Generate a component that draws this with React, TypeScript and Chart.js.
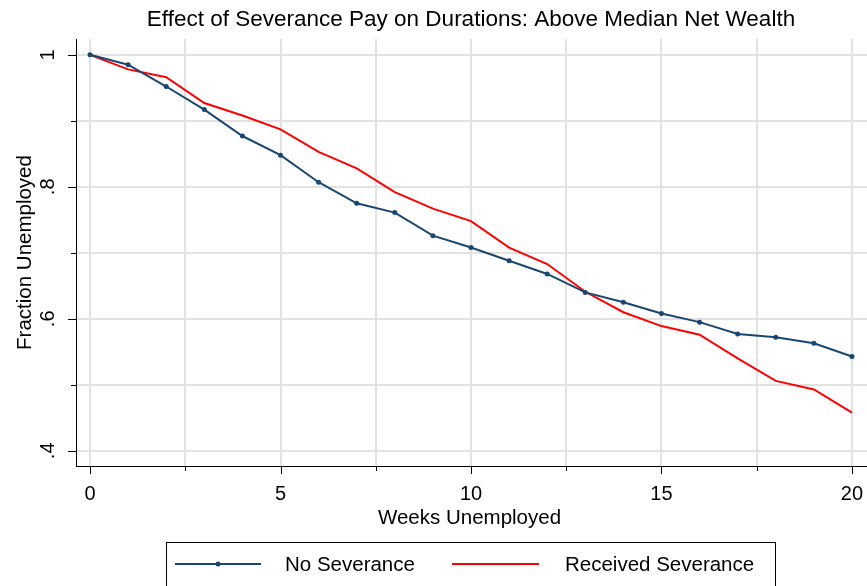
import React, { useEffect, useRef } from "react";
import { Chart, registerables } from "chart.js";

Chart.register(...registerables);

const titleText = "Effect of Severance Pay on Durations: Above Median Net Wealth";
const xTitle = "Weeks Unemployed";
const yTitle = "Fraction Unemployed";

const weeks = [0, 1, 2, 3, 4, 5, 6, 7, 8, 9, 10, 11, 12, 13, 14, 15, 16, 17, 18, 19, 20];
const noSeverance = [
  1.0, 0.985, 0.952, 0.917, 0.877, 0.848, 0.807, 0.775, 0.761, 0.726, 0.708,
  0.688, 0.668, 0.64, 0.625, 0.608, 0.595, 0.577, 0.572, 0.563, 0.543,
];
const receivedSeverance = [
  1.0, 0.978, 0.966, 0.927, 0.908, 0.887, 0.853, 0.828, 0.792, 0.767, 0.748,
  0.708, 0.683, 0.641, 0.61, 0.589, 0.576, 0.54, 0.506, 0.493, 0.458,
];

const xMajorTicks = [0, 5, 10, 15, 20];
const xMinorTicks = [2.5, 7.5, 12.5, 17.5];
const yMajorTicks = [0.4, 0.6, 0.8, 1.0];
const yMajorLabels = [".4", ".6", ".8", "1"];
const yMinorTicks = [0.5, 0.7, 0.9];

const seriesNames = ["No Severance", "Received Severance"];

const FONT = "'Liberation Sans', Arial, Helvetica, sans-serif";
const BLUE = "#1a476f";
const RED = "#ff0000";
const GRID = "#e2e2e2";

const overlayPlugin = {
  id: "stataOverlay",
  beforeDatasetsDraw(chart: any) {
    const ctx = chart.ctx;
    const ys = chart.scales.y;
    const area = chart.chartArea;
    ctx.save();
    ctx.strokeStyle = GRID;
    ctx.lineWidth = 2;
    [...yMajorTicks, ...yMinorTicks].forEach((v) => {
      const py = Math.round(ys.getPixelForValue(v));
      ctx.beginPath();
      ctx.moveTo(area.right, py);
      ctx.lineTo(chart.width, py);
      ctx.stroke();
    });
    ctx.restore();
  },
  afterDraw(chart: any) {
    const ctx = chart.ctx;
    const xs = chart.scales.x;
    const ys = chart.scales.y;
    const area = chart.chartArea;
    ctx.save();
    ctx.strokeStyle = "#000";
    ctx.lineWidth = 1;
    ctx.beginPath();
    ctx.moveTo(area.right, area.bottom + 0.5);
    ctx.lineTo(chart.width, area.bottom + 0.5);
    ctx.stroke();
    const drawXTick = (v: number, len: number) => {
      const px = Math.round(xs.getPixelForValue(v)) + 0.5;
      ctx.beginPath();
      ctx.moveTo(px, area.bottom);
      ctx.lineTo(px, area.bottom + len);
      ctx.stroke();
    };
    xMajorTicks.forEach((v) => drawXTick(v, 8));
    xMinorTicks.forEach((v) => drawXTick(v, 5));
    const drawYTick = (v: number, len: number) => {
      const py = Math.round(ys.getPixelForValue(v)) + 0.5;
      ctx.beginPath();
      ctx.moveTo(area.left, py);
      ctx.lineTo(area.left - len, py);
      ctx.stroke();
    };
    yMajorTicks.forEach((v) => drawYTick(v, 8));
    yMinorTicks.forEach((v) => drawYTick(v, 5));

    // y tick labels (rotated)
    ctx.fillStyle = "#000";
    ctx.font = `20px ${FONT}`;
    ctx.textAlign = "center";
    ctx.textBaseline = "middle";
    yMajorTicks.forEach((v, i) => {
      const py = ys.getPixelForValue(v);
      ctx.save();
      ctx.translate(area.left - 28, py);
      ctx.rotate(-Math.PI / 2);
      ctx.fillText(yMajorLabels[i], 0, 0);
      ctx.restore();
    });

    // title
    ctx.font = `22.5px ${FONT}`;
    ctx.textAlign = "center";
    ctx.textBaseline = "middle";
    ctx.fillText(titleText, 471, 20);

    // legend
    const lx = 166.5, ly = 542.5, lw = 609, lh = 60;
    ctx.strokeStyle = "#000";
    ctx.lineWidth = 1;
    ctx.strokeRect(lx, ly, lw, lh);
    const cy = 564;
    ctx.lineWidth = 2;
    ctx.strokeStyle = BLUE;
    ctx.beginPath();
    ctx.moveTo(175, cy);
    ctx.lineTo(261, cy);
    ctx.stroke();
    ctx.fillStyle = BLUE;
    ctx.beginPath();
    ctx.arc(218, cy, 2.5, 0, Math.PI * 2);
    ctx.fill();
    ctx.strokeStyle = RED;
    ctx.beginPath();
    ctx.moveTo(452, cy);
    ctx.lineTo(539, cy);
    ctx.stroke();
    ctx.fillStyle = "#000";
    ctx.font = `20.5px ${FONT}`;
    ctx.textAlign = "left";
    ctx.textBaseline = "middle";
    ctx.fillText(seriesNames[0], 285, cy + 1);
    ctx.fillText(seriesNames[1], 565, cy + 1);
    ctx.restore();
  },
};

export default function App() {
  const ref = useRef<HTMLCanvasElement>(null);
  useEffect(() => {
    if (!ref.current) return;
    const chart = new Chart(ref.current, {
      type: "line",
      data: {
        labels: weeks,
        datasets: [
          {
            label: seriesNames[0],
            data: weeks.map((w, i) => ({ x: w, y: noSeverance[i] })),
            borderColor: BLUE,
            backgroundColor: BLUE,
            borderWidth: 2,
            pointRadius: 2.5,
            pointBorderWidth: 0,
            pointBackgroundColor: BLUE,
            tension: 0,
          },
          {
            label: seriesNames[1],
            data: weeks.map((w, i) => ({ x: w, y: receivedSeverance[i] })),
            borderColor: RED,
            backgroundColor: RED,
            borderWidth: 2,
            pointRadius: 0,
            tension: 0,
          },
        ],
      },
      plugins: [overlayPlugin],
      options: {
        animation: false,
        responsive: true,
        maintainAspectRatio: false,
        layout: { padding: { top: 39, right: 1, bottom: 50, left: 0 } },
        plugins: {
          legend: { display: false },
          title: { display: false },
          tooltip: { enabled: false },
        },
        scales: {
          x: {
            type: "linear",
            min: -0.368,
            max: 20.289,
            afterBuildTicks: (scale: any) => {
              scale.ticks = [...xMajorTicks, ...xMinorTicks]
                .sort((a, b) => a - b)
                .map((v) => ({ value: v }));
            },
            afterFit: (scale: any) => {
              scale.height = 70;
              scale.paddingLeft = 0;
              scale.paddingRight = 0;
            },
            ticks: {
              autoSkip: false,
              maxRotation: 0,
              padding: 16,
              color: "#000",
              font: { family: FONT, size: 20 },
              callback: (v: any) => (xMajorTicks.includes(Number(v)) ? String(v) : ""),
            },
            grid: { color: GRID, lineWidth: 2, drawTicks: false },
            border: { display: true, color: "#000", width: 1 },
            title: {
              display: true,
              text: xTitle,
              color: "#000",
              font: { family: FONT, size: 20.5 },
              padding: { top: 0, bottom: 5 },
            },
          },
          y: {
            type: "linear",
            min: 0.377,
            max: 1.024,
            afterBuildTicks: (scale: any) => {
              scale.ticks = [...yMajorTicks, ...yMinorTicks]
                .sort((a, b) => a - b)
                .map((v) => ({ value: v }));
            },
            afterFit: (scale: any) => {
              scale.width = 76;
              scale.paddingTop = 0;
              scale.paddingBottom = 0;
            },
            ticks: { display: false },
            grid: { color: GRID, lineWidth: 2, drawTicks: false },
            border: { display: true, color: "#000", width: 1 },
            title: {
              display: true,
              text: yTitle,
              color: "#000",
              font: { family: FONT, size: 20.5 },
              padding: { top: 13, bottom: 0 },
            },
          },
        },
      },
    });
    return () => chart.destroy();
  }, []);
  return (
    <div style={{ position: "absolute", left: 0, top: 0, width: 867, height: 586, background: "#fff" }}>
      <canvas ref={ref} />
    </div>
  );
}
